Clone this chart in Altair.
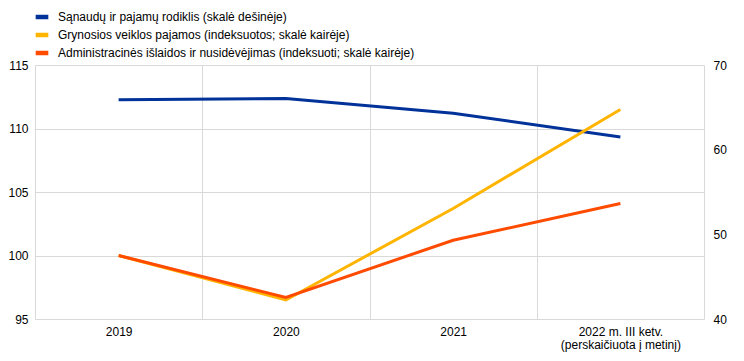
import altair as alt
import pandas as pd

categories = ["2019", "2020", "2021", "2022 m. III ketv.\n(perskaičiuota į metinį)"]
series_names = [
    "Sąnaudų ir pajamų rodiklis (skalė dešinėje)",
    "Grynosios veiklos pajamos (indeksuotos; skalė kairėje)",
    "Administracinės išlaidos ir nusidėvėjimas (indeksuoti; skalė kairėje)",
]
cost_income = [65.9, 66.05, 64.3, 61.5]
net_income = [100.0, 96.5, 103.7, 111.5]
admin_costs = [100.0, 96.7, 101.2, 104.1]
colors = ["#003299", "#ffb400", "#ff4b00"]
left_ticks = [95, 100, 105, 110, 115]
right_ticks = [40, 50, 60, 70]

right_df = pd.DataFrame({"cat": categories, "value": cost_income, "series": series_names[0]})
left_df = pd.concat([
    pd.DataFrame({"cat": categories, "value": net_income, "series": series_names[1]}),
    pd.DataFrame({"cat": categories, "value": admin_costs, "series": series_names[2]}),
])

FONT = "Liberation Sans"

x_enc = alt.X(
    "cat:N",
    sort=categories,
    scale=alt.Scale(type="band", paddingInner=0, paddingOuter=0),
    axis=alt.Axis(
        title=None, labelAngle=0, tickBand="extent", grid=True, gridColor="#d9d9d9",
        ticks=False, domain=False, labelExpr="split(datum.label, '\\n')",
        labelPadding=7, labelBaseline="top", labelLineHeight=13,
        labelFontSize=12, labelFont=FONT, labelColor="#000",
    ),
)

color_enc = alt.Color(
    "series:N",
    scale=alt.Scale(domain=series_names, range=colors),
    legend=alt.Legend(
        orient="none", legendX=-2, legendY=-57, title=None, symbolType="stroke",
        symbolStrokeWidth=4.5, symbolSize=160, labelFontSize=12, labelFont=FONT,
        labelColor="#000", rowPadding=0, labelOffset=7, direction="vertical",
        labelLimit=600,
    ),
)

right_layer = alt.Chart(right_df).mark_line(strokeWidth=3).encode(
    x=x_enc,
    y=alt.Y(
        "value:Q",
        scale=alt.Scale(domain=[40, 70], nice=False, zero=False),
        axis=alt.Axis(
            orient="right", values=right_ticks, title=None, grid=False, ticks=False,
            domain=False, labelPadding=9, labelFontSize=12, labelFont=FONT, labelColor="#000",
        ),
    ),
    color=color_enc,
)

left_layer = alt.Chart(left_df).mark_line(strokeWidth=3).encode(
    x=x_enc,
    y=alt.Y(
        "value:Q",
        scale=alt.Scale(domain=[95, 115], nice=False, zero=False),
        axis=alt.Axis(
            orient="left", values=left_ticks, title=None, grid=True, gridColor="#d9d9d9",
            ticks=False, domain=False, labelPadding=7, labelFontSize=12, labelFont=FONT,
            labelColor="#000",
        ),
    ),
    color=color_enc,
)

chart = alt.layer(right_layer, left_layer).resolve_scale(y="independent").properties(
    width=669,
    height=254,
    autosize=alt.AutoSizeParams(type="none"),
    padding={"left": 27, "top": 57, "right": 32, "bottom": 34},
).configure_view(stroke=None)

chart.save("out.html", embed_options={"renderer": "svg", "actions": False})
